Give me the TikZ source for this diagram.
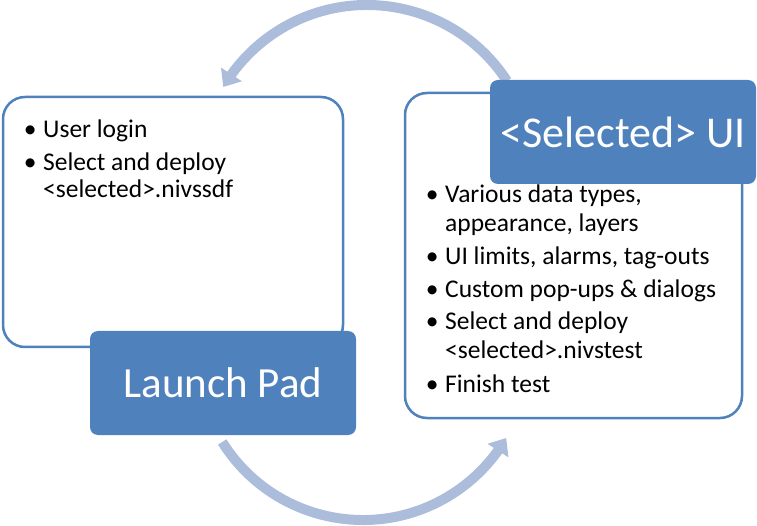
\documentclass[tikz,border=0pt]{standalone}
\usepackage{fontspec}
\setmainfont{Carlito}
\usetikzlibrary{arrows.meta,bending}
\definecolor{boxblue}{RGB}{79,129,189}
\definecolor{arcblue}{RGB}{172,189,219}
\tikzset{
  panel/.style={draw=boxblue, line width=2.5pt, rounded corners=22pt, fill=white, inner sep=0pt},
  titlebox/.style={fill=boxblue, rounded corners=8pt, text=white, inner sep=0pt,
    minimum width=266pt, minimum height=104pt, font=\fontsize{43}{50}\selectfont},
  cycle arrow/.style={draw=arcblue, line width=10pt, -{Triangle[width=24pt,length=15pt,flex]}},
  bitem/.style={anchor=base west, inner sep=0pt, font=\fontsize{25.5}{30}\selectfont},
}
\newcommand{\bul}{\llap{\textbullet\hspace{6.6pt}}}

\begin{document}
\begin{tikzpicture}[x=1pt,y=1pt]
	\useasboundingbox (0,0) rectangle (757,525);
	
	% cycle arrows (behind the boxes)
	\coordinate (topc) at (367,353);
	\coordinate (botc) at (363,171);
	\draw[cycle arrow] (topc) ++(33:167) arc[start angle=33, end angle=149.4, radius=167];
	\draw[cycle arrow] (botc) ++(212:166) arc[start angle=212, end angle=329.6, radius=166];
	
	% LEFT: launch pad
	\node[panel, minimum width=340pt, minimum height=250pt] (lpanel) at (173,303) {};
	\node[titlebox] (launch) at (223,142) {Launch Pad};
	\node[bitem] (l1) at (43,387) {\bul User login};
	\node[bitem] (l2) at (43,354) {\bul Select and deploy};
	\node[bitem] (l2b) at (43,327) {<selected>.nivssdf};
	
	% RIGHT: selected UI
	\node[panel, minimum width=337pt, minimum height=325pt] (rpanel) at (573.5,269.5) {};
	\node[titlebox, font=\fontsize{44}{50}\selectfont] (selui) at (623,393) {<Selected> UI};
	\node[bitem] (r1) at (445,322) {\bul Various data types,};
	\node[bitem] (r1b) at (445,293) {appearance, layers};
	\node[bitem] (r2) at (445,260) {\bul UI limits, alarms, tag-outs};
	\node[bitem] (r3) at (445,227) {\bul Custom pop-ups \& dialogs};
	\node[bitem] (r4) at (445,195) {\bul Select and deploy};
	\node[bitem] (r4b) at (445,167) {<selected>.nivstest};
	\node[bitem] (r5) at (445,133) {\bul Finish test};
\end{tikzpicture}
\end{document}
